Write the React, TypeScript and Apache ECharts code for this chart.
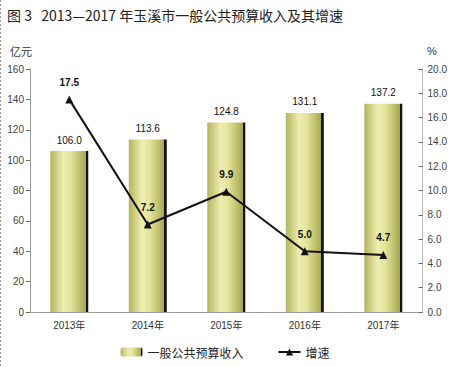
import React, { useEffect, useRef } from "react";
import * as echarts from "echarts";

const categories = ["2013年", "2014年", "2015年", "2016年", "2017年"];
const revenue = [106.0, 113.6, 124.8, 131.1, 137.2];
const growth = [17.5, 7.2, 9.9, 5.0, 4.7];
const titleText = "图 3   2013—2017 年玉溪市一般公共预算收入及其增速";

const FONT = "'Liberation Sans', 'Noto Sans CJK SC', sans-serif";

export default function App() {
  const ref = useRef<HTMLDivElement>(null);
  useEffect(() => {
    if (!ref.current) return;
    const chart = echarts.init(ref.current, null, { renderer: "svg" });
    const barColor = new echarts.graphic.LinearGradient(0, 0, 1, 0, [
      { offset: 0, color: "#b4b45e" },
      { offset: 0.35, color: "#eeeeb0" },
      { offset: 0.55, color: "#e4e49a" },
      { offset: 0.93, color: "#a8a852" },
      { offset: 0.94, color: "#111" },
      { offset: 1, color: "#111" },
    ]);
    chart.setOption({
      animation: false,
      backgroundColor: "#fff",
      title: {
        text: titleText,
        left: 2,
        top: 3,
        textStyle: { fontFamily: "'Noto Sans CJK SC', sans-serif", fontSize: 14, fontWeight: "normal", color: "#222" },
      },
      graphic: [
        { type: "text", left: 10, top: 45, style: { text: "亿元", font: "11px 'Noto Sans CJK SC'", fill: "#333" } },
        { type: "text", left: 427, top: 45, style: { text: "%", font: "11px 'Liberation Sans'", fill: "#333" } },
        { type: "line", shape: { x1: 0.5, y1: 0, x2: 0.5, y2: 367 }, style: { stroke: "#999", lineDash: [2, 2], lineWidth: 1 } },
      ],
      legend: {
        bottom: 4,
        left: "center",
        itemGap: 34,
        itemWidth: 22,
        itemHeight: 9,
        textStyle: { fontFamily: "'Noto Sans CJK SC', sans-serif", fontSize: 12, color: "#222" },
        data: [{ name: "一般公共预算收入" }, { name: "增速" }],
      },
      grid: { left: 30, right: 27, top: 69, bottom: 55 },
      xAxis: {
        type: "category",
        data: categories,
        axisLine: { lineStyle: { color: "#999" } },
        axisTick: { inside: true, length: 4, lineStyle: { color: "#666" } },
        axisLabel: { fontFamily: FONT, fontSize: 10, color: "#333", margin: 8 },
      },
      yAxis: [
        {
          type: "value",
          min: 0,
          max: 160,
          interval: 20,
          axisLine: { show: true, lineStyle: { color: "#999" } },
          axisTick: { show: true, length: 4, lineStyle: { color: "#666" } },
          splitLine: { show: false },
          axisLabel: { fontFamily: FONT, fontSize: 10, color: "#444", margin: 6 },
        },
        {
          type: "value",
          min: 0,
          max: 20,
          interval: 2,
          position: "right",
          axisLine: { show: true, lineStyle: { color: "#bbb" } },
          axisTick: { show: true, inside: true, length: 4, lineStyle: { color: "#666" } },
          splitLine: { show: false },
          axisLabel: { fontFamily: FONT, fontSize: 10, color: "#444", margin: 5, formatter: (v: number) => v.toFixed(1) },
        },
      ],
      series: [
        {
          name: "一般公共预算收入",
          type: "bar",
          data: revenue,
          barWidth: 38,
          itemStyle: { color: barColor },
          label: {
            show: true,
            position: "top",
            distance: 6,
            fontFamily: FONT,
            fontSize: 10,
            color: "#111",
            formatter: (p: any) => Number(p.value).toFixed(1),
          },
        },
        {
          name: "增速",
          type: "line",
          yAxisIndex: 1,
          data: growth,
          symbol: "triangle",
          symbolSize: 8,
          lineStyle: { color: "#111", width: 2 },
          itemStyle: { color: "#111" },
          label: {
            show: true,
            position: "top",
            distance: 8,
            fontFamily: FONT,
            fontSize: 10,
            fontWeight: "bold",
            color: "#111",
            formatter: (p: any) => Number(p.value).toFixed(1),
          },
        },
      ],
    });
    return () => chart.dispose();
  }, []);
  return <div ref={ref} style={{ width: 450, height: 367, position: "fixed", left: 0, top: 0 }} />;
}
